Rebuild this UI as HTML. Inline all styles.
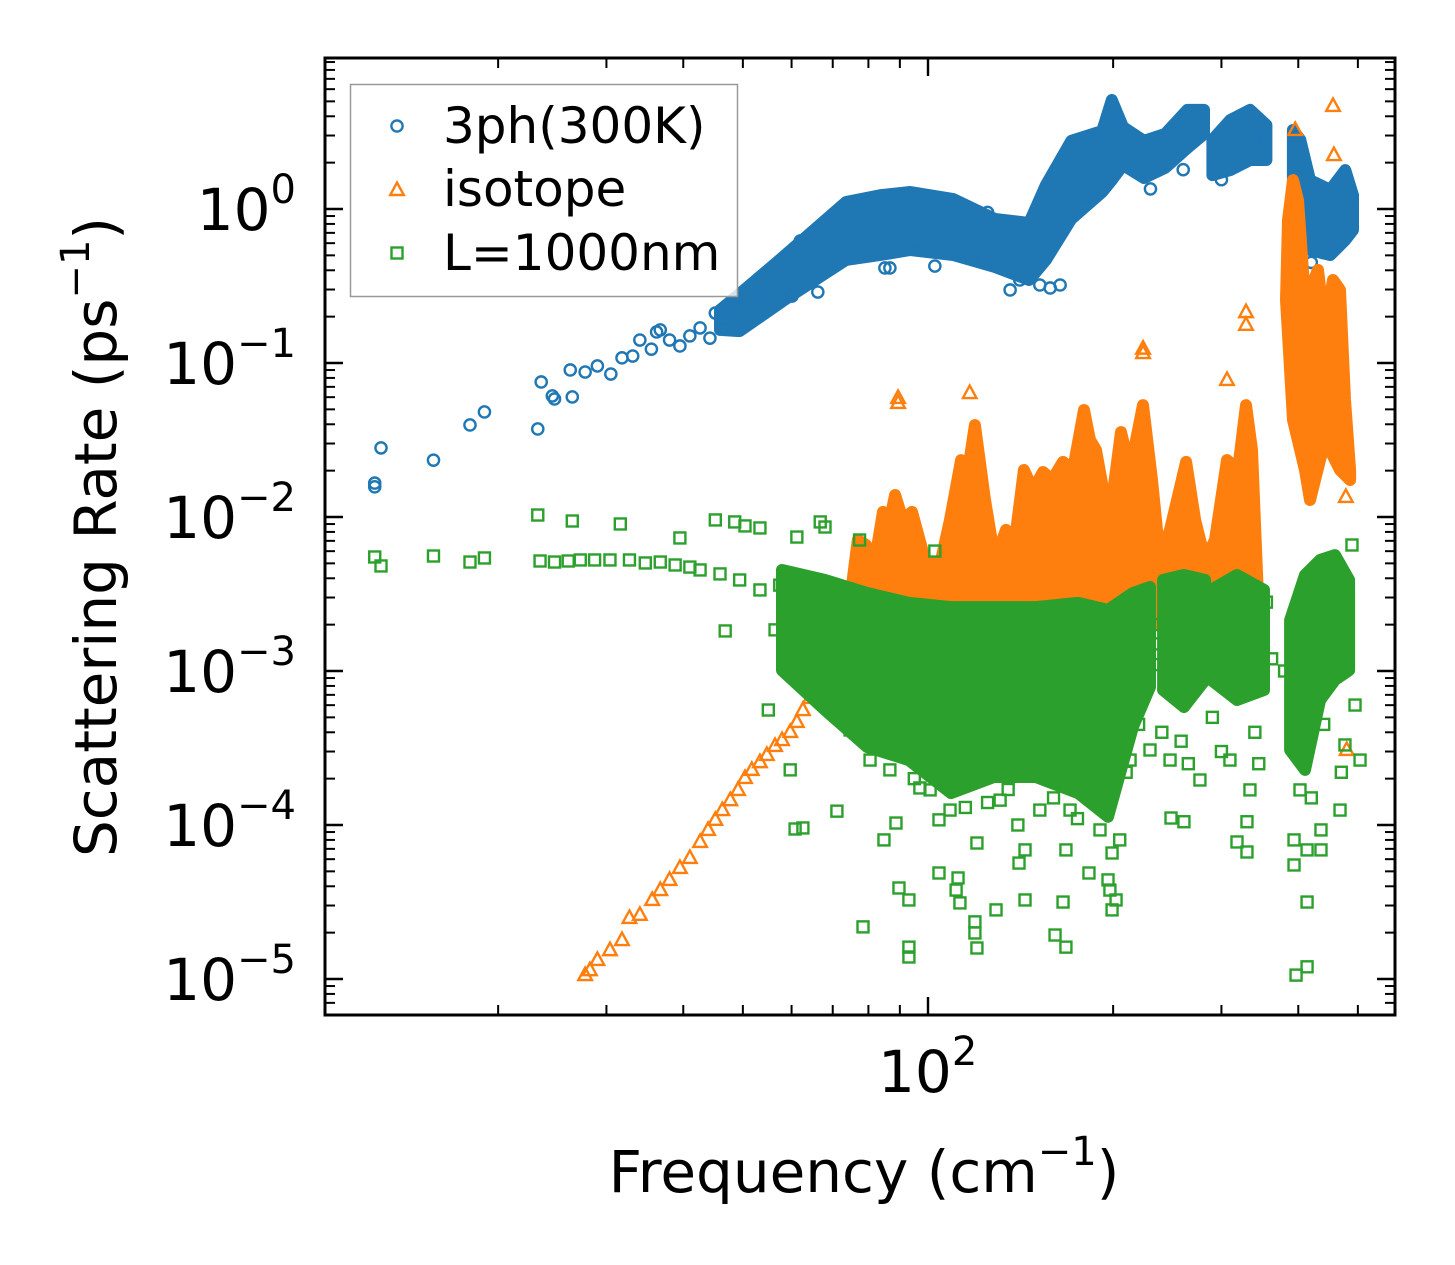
<!DOCTYPE html>
<html><head><meta charset="utf-8">
<style>
html,body{margin:0;padding:0;background:#fff;}
body{position:relative;width:1455px;height:1265px;overflow:hidden;}
svg{display:block;font-family:"DejaVu Sans","Liberation Sans",sans-serif;}
</style></head>
<body>
<svg id="chart" width="1455" height="1265" viewBox="0 0 1455 1265" xmlns="http://www.w3.org/2000/svg">
<rect x="0" y="0" width="1455" height="1265" fill="#fff"/>
<g id="bands"></g>
<g id="marks"></g>
<g id="axes"></g>
</svg>
<script>
// ---------- data (frequency cm^-1, scattering rate ps^-1) ----------
const blueF = [12.6,12.6,12.9,15.7,18.0,19.0,23.2,23.5,24.5,24.7,26.2,26.4,27.7,29.0,30.5,31.8,33.1,34.0,35.5,36.2,36.7,38.0,39.5,41.0,42.6,44.2,45.1,46.3,47.7,51.0,53.3,55.4,60.1,66.2,85.1,86.7,102.6,141,152,158,164,136,485.6,62,70,78,96,118,125,180,186,200,230,260,300,320,345,420,440,470,400];
const blueV = [0.0166,0.0157,0.0281,0.0234,0.0396,0.0481,0.0373,0.0753,0.0611,0.0584,0.0901,0.0602,0.0874,0.0957,0.0848,0.108,0.111,0.141,0.123,0.159,0.164,0.141,0.129,0.150,0.169,0.145,0.211,0.196,0.238,0.256,0.272,0.289,0.272,0.289,0.414,0.414,0.426,0.346,0.321,0.307,0.321,0.298,1.18,0.62,0.85,1.05,0.62,0.48,0.95,1.2,2.2,3.9,1.35,1.8,1.55,3.3,3.0,0.45,0.52,0.62,2.3];
const blueBandF1 = [45.9,49.4,58.1,73.6,83.6,93.6,109.9,128.5,146,155.5,171,192,199,207.5,224.5,243,264,281];
const blueBandHi1 = [0.221,0.281,0.488,1.11,1.23,1.29,1.16,0.861,0.811,1.43,2.77,3.21,5.1,3.41,2.77,3.07,4.4,4.4];
const blueBandLo1 = [0.164,0.161,0.253,0.467,0.503,0.542,0.503,0.420,0.346,0.467,0.861,1.29,1.54,1.93,1.59,1.85,2.49,3.07];
const blueBandF2 = [290,310,334,355];
const blueBandHi2 = [2.81,3.78,4.4,3.51];
const blueBandLo2 = [1.66,1.79,2.08,2.08];
const blueBandF3 = [392,403,418,451,477,491];
const blueBandHi3 = [3.26,2.81,1.54,1.33,1.79,1.23];
const blueBandLo3 = [0.849,0.629,0.542,0.503,0.629,0.731];

const orangeF = [27.7,28.2,29.0,30.4,31.8,32.7,34.0,35.6,36.7,38.0,39.5,41.0,42.6,43.9,45.1,46.3,47.7,49.1,50.4,51.7,53.3,54.7,56.4,57.9,59.7,61.2,62.6,64.3,65.5,67.2,89.4,89.4,116.9,223.7,223.7,306.3,328.9,328.9,455.6,457.1,395.4,478,479.5];
const orangeV = [1.06e-5,1.14e-5,1.33e-5,1.54e-5,1.79e-5,2.49e-5,2.61e-5,3.26e-5,3.78e-5,4.40e-5,5.26e-5,6.11e-5,7.76e-5,9.29e-5,1.08e-4,1.25e-4,1.45e-4,1.69e-4,2.02e-4,2.28e-4,2.56e-4,2.85e-4,3.26e-4,3.56e-4,4.02e-4,4.67e-4,5.58e-4,6.68e-4,8.11e-4,1.01e-3,0.0593,0.0550,0.0638,0.116,0.124,0.0776,0.214,0.177,4.67,2.24,3.26,0.0135,3.07e-4];
const orangeTopF = [66.8,70.6,74.7,76.9,79.3,82.0,84.5,86.7,88.4,91.0,94.2,98.9,104.6,108.6,113.2,116.2,119.2,123.8,128.5,133.9,138.5,143.2,148.2,153.8,159.1,165.8,172.1,179.3,183.4,187.6,194.0,199.2,206.0,213.1,223.7,231.3,238.4,247.5,262.8,271.8,282.2,292.9,306.3,319.2,328.9,336.4,344.1];
const orangeTopV = [1.01e-3,1.59e-3,2.89e-3,7.09e-3,6.58e-3,5.26e-3,1.08e-2,9.57e-3,1.39e-2,9.57e-3,1.08e-2,5.26e-3,4.88e-3,9.57e-3,2.34e-2,2.02e-2,3.95e-2,1.29e-2,5.26e-3,8.24e-3,7.09e-3,2.02e-2,1.50e-2,1.96e-2,1.74e-2,2.28e-2,2.02e-2,4.95e-2,3.16e-2,2.72e-2,1.29e-2,1.29e-2,3.56e-2,2.02e-2,5.33e-2,1.74e-2,5.26e-3,8.24e-3,2.28e-2,9.57e-3,5.26e-3,7.09e-3,2.34e-2,2.02e-2,5.33e-2,2.72e-2,2.89e-3];
const orangeBotF = [66.8,71.9,83.6,97.1,112.7,131,152,176.5,205.5,238.4,276.8,310,344.1];
const orangeBotV = [7.53e-4,6.48e-4,7.53e-4,1.18e-3,2.14e-3,2.14e-3,1.59e-3,1.18e-3,7.53e-4,2.49e-3,1.59e-3,1.37e-3,2.14e-3];
const orangeRTopF = [384.9,392.2,399.6,410.2,418.0,430.7,442.1,455.6,467.7,476.4,485.6];
const orangeRTopV = [0.848,1.54,1.14,0.256,0.298,0.402,0.164,0.346,0.298,0.0575,0.0202];
const orangeRBotF = [382,392.2,410.2,418.0,442.1,467.7,485.6];
const orangeRBotV = [0.256,0.0427,0.0202,0.0129,0.0316,0.0202,0.0174];

const greenF = [12.6,12.9,15.7,18.0,19.0,23.2,23.4,24.7,26.0,26.4,27.2,28.7,30.4,31.6,32.7,34.7,36.7,38.8,39.5,41.0,42.6,45.1,45.9,46.8,48.5,50.4,49.4,53.3,53.3,56.4,57.4,61.2,61.9,66.8,68.0,77.4,102.6,59.7,60.8,55.0,
 62.6,71.1,78.4,84.8,88.7,89.7,93.1,93.1,93.1,97.0,104.2,104.2,111.9,111.1,112.7,119.2,119.2,120.1,120.1,129.0,140.6,143.8,143.8,160.9,167.6,165.8,167.6,182.7,196.2,197.6,202.2,199.2,199.2,248.4,260.7,318.0,330.1,330.1,393.7,393.7,413.4,413.4,396.7,413.4,435.5,435.5,
 74.7,80.5,86.7,100.8,108.6,131.0,152.0,170.2,190.4,213.1,229.6,247.5,276.8,309.7,333.8,402.6,467.7,476.4,494.7,504.1,489.1,
 75,82,88,95,102,115,125,135,140,160,175,185,205,210,220,235,240,258,265,290,300,340,345,395,420,440,470,380,390,232,236,270,286,355,362];
const greenV = [5.50e-3,4.81e-3,5.58e-3,5.10e-3,5.42e-3,1.03e-2,5.18e-3,5.10e-3,5.18e-3,9.42e-3,5.26e-3,5.26e-3,5.26e-3,9.01e-3,5.26e-3,5.03e-3,5.10e-3,4.88e-3,7.31e-3,4.73e-3,4.53e-3,9.57e-3,4.27e-3,1.82e-3,9.29e-3,8.75e-3,3.90e-3,8.49e-3,3.36e-3,1.85e-3,3.61e-3,7.41e-3,2.89e-3,9.29e-3,8.61e-3,7.09e-3,6.01e-3,2.28e-4,9.42e-5,5.58e-4,
 9.57e-5,1.23e-4,2.18e-5,8.0e-5,1.03e-4,3.90e-5,3.26e-5,1.61e-5,1.39e-5,1.74e-4,4.88e-5,1.08e-4,4.53e-5,3.78e-5,3.12e-5,2.35e-5,1.99e-5,1.59e-5,7.64e-5,2.81e-5,5.66e-5,3.26e-5,6.89e-5,1.93e-5,1.61e-5,3.16e-5,6.89e-5,4.88e-5,4.40e-5,3.78e-5,3.26e-5,2.81e-5,6.58e-5,1.11e-4,1.05e-4,7.76e-5,6.68e-5,1.05e-4,5.50e-5,8.0e-5,6.89e-5,3.16e-5,1.06e-5,1.20e-5,9.29e-5,6.89e-5,
 4.14e-4,2.64e-4,2.28e-4,1.69e-4,1.25e-4,1.45e-4,1.25e-4,1.25e-4,9.29e-5,2.64e-4,3.07e-4,2.64e-4,1.96e-4,2.64e-4,1.69e-4,1.69e-4,1.25e-4,3.31e-4,6.01e-4,2.64e-4,6.58e-3,
 4.5e-4,3.5e-4,5e-4,2e-4,3e-4,1.3e-4,1.4e-4,1.7e-4,1.0e-4,1.5e-4,1.1e-4,1.6e-4,8e-5,2.2e-4,4.5e-4,1.1e-3,4e-4,3.5e-4,2.5e-4,5e-4,3e-4,4e-4,2.5e-4,5e-4,1.5e-4,4.5e-4,2.2e-4,1.0e-3,6e-4,2.0e-3,1.5e-3,3.0e-3,2.5e-3,2.8e-3,1.2e-3];
const greenBandF1 = [57.9,68.0,79.6,93.1,109.0,128.0,149.8,175.4,196.2,215.4,229.6];
const greenBandHi1 = [4.53e-3,3.90e-3,3.21e-3,2.77e-3,2.60e-3,2.60e-3,2.60e-3,2.77e-3,2.49e-3,3.21e-3,3.51e-3];
const greenBandLo1 = [1.01e-3,5.58e-4,3.21e-4,2.64e-4,1.61e-4,2.05e-4,2.05e-4,1.61e-4,1.13e-4,4.33e-4,7.87e-4];
const greenBandF2 = [241.1,260.7,282.2];
const greenBandHi2 = [3.90e-3,4.20e-3,3.90e-3];
const greenBandLo2 = [7.53e-4,5.84e-4,8.75e-4];
const greenBandF3 = [288.5,318.0,351.9];
const greenBandHi3 = [3.36e-3,4.20e-3,3.36e-3];
const greenBandLo3 = [8.75e-4,6.48e-4,7.53e-4];
const greenBandF4 = [387.9,410.2,434.0,458.9,483.8];
const greenBandHi4 = [2.14e-3,4.20e-3,5.26e-3,5.66e-3,3.90e-3];
const greenBandLo4 = [3.07e-4,2.28e-4,6.48e-4,8.75e-4,1.01e-3];

const yTickVals = [1e-5,1e-4,1e-3,1e-2,1e-1,1];
const yTickExps = ["−5","−4","−3","−2","−1","0"];

const L=325,R=1395,T=58,B=1015;
function xS(f){return 928+615*Math.log10(f/100);}
function yS(v){return 209-154*Math.log10(v);}
const NS="http://www.w3.org/2000/svg";
function mk(tag,attrs,parent){const e=document.createElementNS(NS,tag);for(const k in attrs)e.setAttribute(k,attrs[k]);parent.appendChild(e);return e;}
const bands=document.getElementById('bands'),marks=document.getElementById('marks'),axes=document.getElementById('axes');
const BLUE="#1f77b4",ORANGE="#ff7f0e",GREEN="#2ca02c";

function bandPath(TF,TV,BF,BV){
  let d="";
  for(let i=0;i<TF.length;i++)d+=(i?"L":"M")+xS(TF[i]).toFixed(1)+","+yS(TV[i]).toFixed(1);
  for(let i=BF.length-1;i>=0;i--)d+="L"+xS(BF[i]).toFixed(1)+","+yS(BV[i]).toFixed(1);
  return d+"Z";
}
function band(TF,TV,BF,BV,color,name,parent){
  const p=mk('path',{d:bandPath(TF,TV,BF,BV),fill:color,stroke:color,'stroke-width':12,'stroke-linejoin':'round'},parent);
  
  
}
function circ(x,y,g){return mk('circle',{cx:x,cy:y,r:5.6,fill:'none',stroke:BLUE,'stroke-width':2.4},g);}
function tri(x,y,g){return mk('path',{d:`M${x},${y-7.5}L${x+6.8},${y+5}L${x-6.8},${y+5}Z`,fill:'none',stroke:ORANGE,'stroke-width':2.4},g);}
function sq(x,y,g){return mk('rect',{x:x-5.5,y:y-5.5,width:11,height:11,fill:'none',stroke:GREEN,'stroke-width':2.4},g);}

band(blueBandF1,blueBandHi1,blueBandF1,blueBandLo1,BLUE,'3ph-cloud-1',bands);
band(blueBandF2,blueBandHi2,blueBandF2,blueBandLo2,BLUE,'3ph-cloud-2',bands);
band(blueBandF3,blueBandHi3,blueBandF3,blueBandLo3,BLUE,'3ph-cloud-3',bands);
for(let i=0;i<blueF.length;i++){const c=circ(xS(blueF[i]),yS(blueV[i]),marks);
  
  }
const og=mk('g',{},marks);
band(orangeTopF,orangeTopV,orangeBotF,orangeBotV,ORANGE,'isotope-cloud',og);
band(orangeRTopF,orangeRTopV,orangeRBotF,orangeRBotV,ORANGE,'isotope-cloud-right',og);
for(let i=0;i<orangeF.length;i++){const t=tri(xS(orangeF[i]),yS(orangeV[i]),og);
  
  }
const gb=mk('g',{},marks);
band(greenBandF1,greenBandHi1,greenBandF1,greenBandLo1,GREEN,'boundary-cloud-1',gb);
band(greenBandF2,greenBandHi2,greenBandF2,greenBandLo2,GREEN,'boundary-cloud-2',gb);
band(greenBandF3,greenBandHi3,greenBandF3,greenBandLo3,GREEN,'boundary-cloud-3',gb);
band(greenBandF4,greenBandHi4,greenBandF4,greenBandLo4,GREEN,'boundary-cloud-4',gb);
for(let i=0;i<greenF.length;i++){const s=sq(xS(greenF[i]),yS(greenV[i]),gb);
  
  }

const fr=mk('rect',{x:L,y:T,width:R-L,height:B-T,fill:'none',stroke:'#000','stroke-width':3},axes);


const xMin=[20,30,40,50,60,70,80,90,200,300,400,500];
for(const f of xMin){const x=xS(f);
  mk('line',{x1:x,y1:B,x2:x,y2:B-10,stroke:'#000','stroke-width':2},axes);
  mk('line',{x1:x,y1:T,x2:x,y2:T+10,stroke:'#000','stroke-width':2},axes);}
{const x=xS(100);
  mk('line',{x1:x,y1:B,x2:x,y2:B-18,stroke:'#000','stroke-width':2.4},axes);
  mk('line',{x1:x,y1:T,x2:x,y2:T+18,stroke:'#000','stroke-width':2.4},axes);
  const t=mk('text',{x:878,y:1092,'font-size':58,'text-anchor':'start',fill:'#000'},axes);
  
  
  t.innerHTML='10<tspan dy="-27" font-size="40">2</tspan>';}
for(let e=-6;e<=1;e++){for(let m=2;m<=9;m++){const y=yS(m*Math.pow(10,e));if(y<T+2||y>B-2)continue;
  mk('line',{x1:L,y1:y,x2:L+10,y2:y,stroke:'#000','stroke-width':2},axes);
  mk('line',{x1:R,y1:y,x2:R-10,y2:y,stroke:'#000','stroke-width':2},axes);}}
for(let i=0;i<yTickVals.length;i++){const y=yS(yTickVals[i]);
  mk('line',{x1:L,y1:y,x2:L+18,y2:y,stroke:'#000','stroke-width':2.4},axes);
  mk('line',{x1:R,y1:y,x2:R-18,y2:y,stroke:'#000','stroke-width':2.4},axes);
  const t=mk('text',{x:296,y:y+21,'font-size':58,'text-anchor':'end',fill:'#000'},axes);
  
  
  t.innerHTML='10<tspan dy="-27" font-size="40">'+yTickExps[i]+'</tspan>';}
</script>
<svg style="position:absolute;left:0;top:0" width="1455" height="1265" viewBox="0 0 1455 1265" xmlns="http://www.w3.org/2000/svg" font-family="DejaVu Sans, Liberation Sans, sans-serif">
<text x="864" y="1192" font-size="58" text-anchor="middle">Frequency (cm<tspan dy="-27" font-size="40">−1</tspan><tspan dy="27">)</tspan></text>
<text transform="translate(116,537) rotate(-90)" font-size="58" text-anchor="middle">Scattering Rate (ps<tspan dy="-27" font-size="40">−1</tspan><tspan dy="27">)</tspan></text>
<g>
<rect x="350.5" y="84.5" width="387" height="212" fill="#fff" fill-opacity="0.8" stroke="#999" stroke-width="1.5"/>
<circle cx="397" cy="126" r="5.6" fill="none" stroke="#1f77b4" stroke-width="2.4"/>
<text x="443" y="143" font-size="50">3ph(300K)</text>
<path d="M397,182.5L403.8,195L390.2,195Z" fill="none" stroke="#ff7f0e" stroke-width="2.4"/>
<text x="443" y="206" font-size="50">isotope</text>
<rect x="391.5" y="247.5" width="11" height="11" fill="none" stroke="#2ca02c" stroke-width="2.4"/>
<text x="443" y="270" font-size="50">L=1000nm</text>
</g>
</svg>
</body></html>
